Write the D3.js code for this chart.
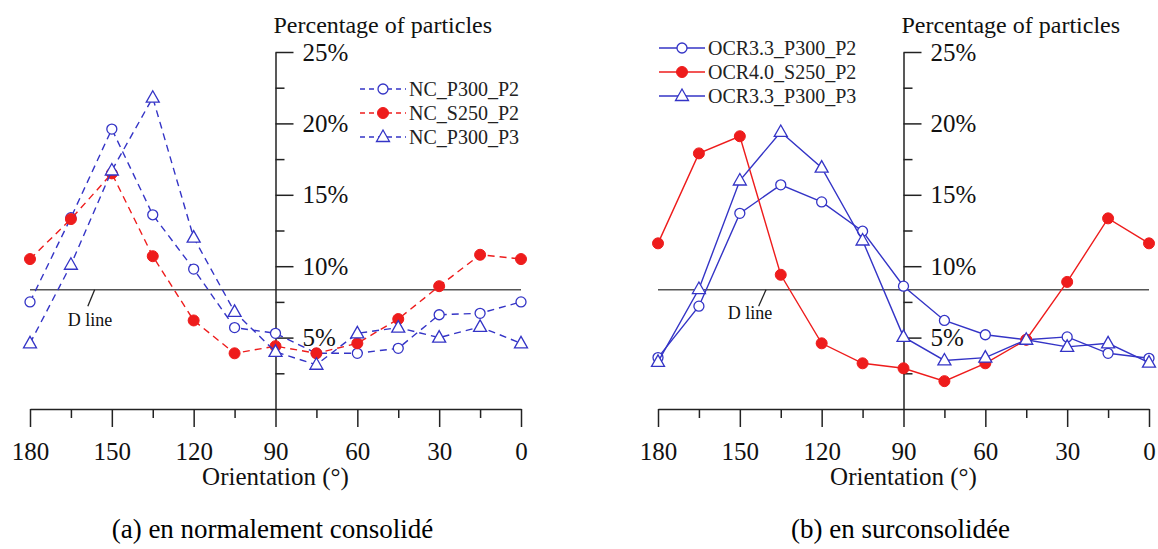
<!DOCTYPE html>
<html>
<head>
<meta charset="utf-8">
<script src="https://cdn.jsdelivr.net/npm/d3@7"></script>
<style>
  body { margin: 0; background: #fff; }
  svg { display: block; }
  text { font-family: "Liberation Serif", "Times New Roman", Times, serif; }
  .axis path, .axis line { stroke: #222; stroke-width: 1.5; }
  .axis text { fill: #111; }
</style>
</head>
<body>
<svg id="chart" width="1158" height="549"></svg>
<script>
// orientation in degrees (x axis runs from 180 down to 0)
const orientations = [180, 165, 150, 135, 120, 105, 90, 75, 60, 45, 30, 15, 0];

// (a) normally consolidated
const ncP300P2 = [7.5, 13.4, 19.6, 13.6, 9.8, 5.7, 5.3, 3.9, 3.9, 4.25, 6.6, 6.7, 7.5];
const ncS250P2 = [10.5, 13.3, 16.5, 10.7, 6.2, 3.9, 4.4, 3.9, 4.6, 6.3, 8.6, 10.8, 10.5];
const ncP300P3 = [4.6, 10.1, 16.7, 21.8, 12.0, 6.8, 4.0, 3.1, 5.3, 5.7, 5.0, 5.75, 4.6];

// (b) over consolidated
const ocrP300P2 = [3.6, 7.2, 13.7, 15.7, 14.5, 12.45, 8.6, 6.2, 5.2, 4.85, 5.05, 3.9, 3.55];
const ocrS250P2 = [11.6, 17.9, 19.1, 9.4, 4.6, 3.2, 2.85, 1.95, 3.2, 4.85, 8.9, 13.35, 11.6];
const ocrP300P3 = [3.3, 8.4, 16.0, 19.4, 16.9, 11.8, 5.05, 3.4, 3.6, 4.85, 4.35, 4.6, 3.25];

const xTickLabels = [180, 150, 120, 90, 60, 30, 0];
const xMinorTicks = [165, 135, 105, 75, 45, 15];
const yTickLabels = [5, 10, 15, 20, 25];
const yMinorTicks = [2.5, 7.5, 12.5, 17.5, 22.5];
const dLineValue = 8.35;

const blue = "#3434c6";
const red = "#ee1c1c";
const serif = "'Liberation Serif', 'Times New Roman', Times, serif";

const svg = d3.select("#chart").attr("font-family", serif);

function drawPanel(opts) {
  const x = d3.scaleLinear().domain([180, 0]).range([opts.left, opts.left + 491]);
  const y = d3.scaleLinear().domain([0, 25]).range([409, 52]);
  const g = svg.append("g");
  const x90 = x(90);

  // D line
  g.append("line")
    .attr("x1", x(180)).attr("x2", x(0))
    .attr("y1", y(dLineValue)).attr("y2", y(dLineValue))
    .attr("stroke", "#555").attr("stroke-width", 1.5);

  g.append("line")
    .attr("x1", x(opts.dLeader[0])).attr("y1", y(dLineValue))
    .attr("x2", x(opts.dLeader[1])).attr("y2", y(opts.dLeader[2]))
    .attr("stroke", "#222").attr("stroke-width", 1.3);

  g.append("text")
    .attr("x", x(opts.dLabel[0])).attr("y", y(opts.dLabel[1]) + 6)
    .attr("text-anchor", "middle")
    .attr("font-size", "18px")
    .attr("fill", "#111")
    .text("D line");

  // X axis
  g.append("g")
    .attr("class", "axis")
    .attr("transform", "translate(0,409)")
    .call(d3.axisBottom(x).tickValues(xTickLabels).tickSize(18).tickSizeOuter(0).tickPadding(15).tickFormat(d3.format("d")))
    .attr("font-family", serif)
    .selectAll("text").style("font-size", "25px");

  g.append("g")
    .attr("class", "axis")
    .attr("transform", "translate(0,409)")
    .call(d3.axisBottom(x).tickValues(xMinorTicks).tickSize(9).tickFormat(""))
    .select(".domain").remove();

  // Y axis at 90 degrees
  g.append("g")
    .attr("class", "axis")
    .attr("transform", `translate(${x90},0)`)
    .call(d3.axisRight(y).tickValues(yTickLabels).tickSize(18).tickSizeOuter(0).tickPadding(9).tickFormat(d => d + "%"))
    .attr("font-family", serif)
    .selectAll("text").style("font-size", "25px");

  g.append("g")
    .attr("class", "axis")
    .attr("transform", `translate(${x90},0)`)
    .call(d3.axisRight(y).tickValues(yMinorTicks).tickSize(9).tickFormat(""))
    .select(".domain").remove();

  // axis titles
  g.append("text")
    .attr("x", x90 - 2).attr("y", 33)
    .attr("font-size", "24px").attr("fill", "#111")
    .text("Percentage of particles");

  g.append("text")
    .attr("x", x90).attr("y", 485)
    .attr("text-anchor", "middle")
    .attr("font-size", "25px").attr("fill", "#111")
    .text("Orientation (°)");

  g.append("text")
    .attr("x", x90 - 3).attr("y", 538)
    .attr("text-anchor", "middle")
    .attr("font-size", "27px").attr("fill", "#000")
    .text(opts.caption);

  // series
  const line = d3.line().x(d => x(d.o)).y(d => y(d.v));
  opts.series.forEach(s => {
    const pts = orientations.map((o, i) => ({ o: o, v: s.values[i] }));
    g.append("path")
      .datum(pts)
      .attr("d", line)
      .attr("fill", "none")
      .attr("stroke", s.color)
      .attr("stroke-width", 1.4)
      .attr("stroke-dasharray", opts.dash);
    drawMarkers(g, pts.map(p => [x(p.o), y(p.v)]), s);
  });

  // legend
  const lg = g.append("g");
  opts.series.forEach((s, i) => {
    const ly = opts.legend.y + i * 24;
    lg.append("line")
      .attr("x1", opts.legend.x).attr("x2", opts.legend.x + 46)
      .attr("y1", ly).attr("y2", ly)
      .attr("stroke", s.color).attr("stroke-width", 1.4)
      .attr("stroke-dasharray", opts.dash ? "5,4" : null);
    drawMarkers(lg, [[opts.legend.x + 23, ly]], s);
    lg.append("text")
      .attr("x", opts.legend.x + 49).attr("y", ly + 7)
      .attr("font-size", "20px").attr("fill", "#222")
      .text(s.name);
  });
}

function drawMarkers(g, coords, s) {
  if (s.marker === "circle") {
    g.selectAll(null).data(coords).enter().append("circle")
      .attr("cx", d => d[0]).attr("cy", d => d[1]).attr("r", 5)
      .attr("fill", "#fff").attr("stroke", s.color).attr("stroke-width", 1.3);
  } else if (s.marker === "dot") {
    g.selectAll(null).data(coords).enter().append("circle")
      .attr("cx", d => d[0]).attr("cy", d => d[1]).attr("r", 5.5)
      .attr("fill", s.color).attr("stroke", s.color);
  } else {
    g.selectAll(null).data(coords).enter().append("path")
      .attr("d", d => `M${d[0]},${d[1] - 7}L${d[0] + 6.5},${d[1] + 4.5}L${d[0] - 6.5},${d[1] + 4.5}Z`)
      .attr("fill", "#fff").attr("stroke", s.color).attr("stroke-width", 1.3);
  }
}

drawPanel({
  left: 30,
  dash: "7,5",
  caption: "(a) en normalement consolidé",
  dLeader: [156.3, 158.8, 7.2],
  dLabel: [158, 6.2],
  legend: { x: 360, y: 89 },
  series: [
    { name: "NC_P300_P2", values: ncP300P2, color: blue, marker: "circle" },
    { name: "NC_S250_P2", values: ncS250P2, color: red, marker: "dot" },
    { name: "NC_P300_P3", values: ncP300P3, color: blue, marker: "triangle" }
  ]
});

drawPanel({
  left: 658,
  dash: null,
  caption: "(b) en surconsolidée",
  dLeader: [140.4, 143.1, 7.2],
  dLabel: [146.3, 6.74],
  legend: { x: 659, y: 48 },
  series: [
    { name: "OCR3.3_P300_P2", values: ocrP300P2, color: blue, marker: "circle" },
    { name: "OCR4.0_S250_P2", values: ocrS250P2, color: red, marker: "dot" },
    { name: "OCR3.3_P300_P3", values: ocrP300P3, color: blue, marker: "triangle" }
  ]
});
</script>
</body>
</html>
